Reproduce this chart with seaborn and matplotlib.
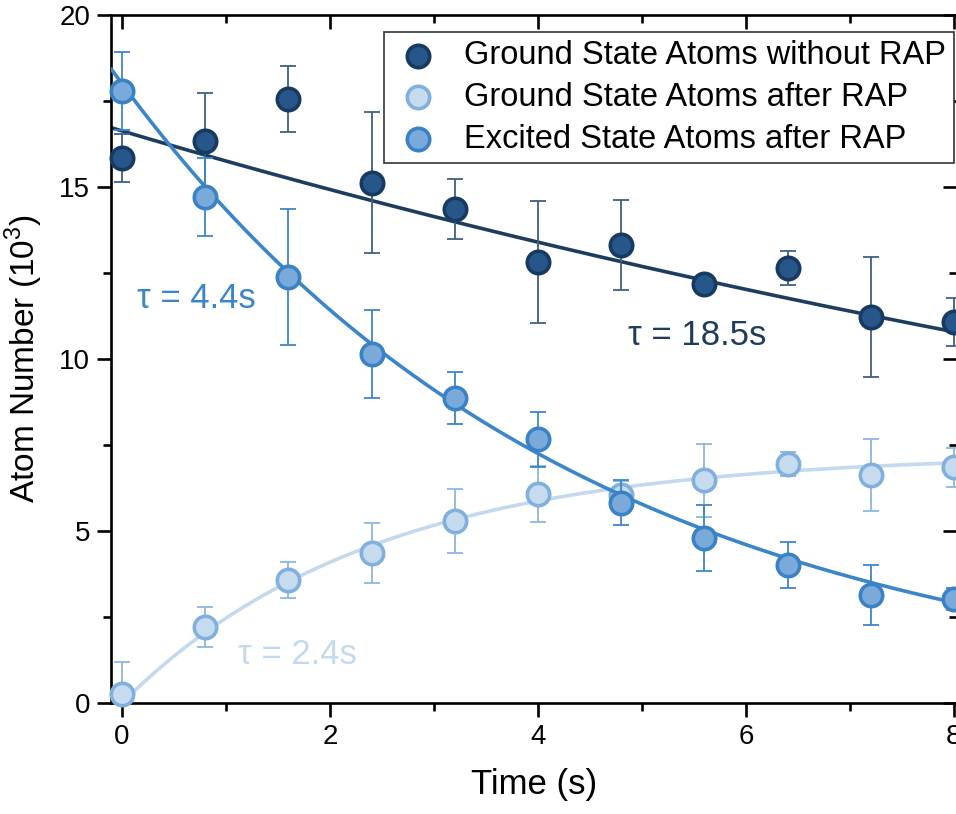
import numpy as np
import pandas as pd
import matplotlib
matplotlib.use("Agg")
import matplotlib.pyplot as plt
from matplotlib.ticker import MultipleLocator
import seaborn as sns

# Measurement times (s)
time_s = [0.0, 0.8, 1.6, 2.4, 3.2, 4.0, 4.8, 5.6, 6.4, 7.2, 8.0]

# Atom numbers (10^3) and their uncertainties
ground_no_rap = [15.84, 16.34, 17.56, 15.12, 14.36, 12.82, 13.31, 12.18, 12.65, 11.22, 11.08]
ground_no_rap_err = [0.70, 1.40, 0.95, 2.05, 0.87, 1.78, 1.31, 0.15, 0.50, 1.75, 0.70]

ground_rap = [0.26, 2.20, 3.58, 4.36, 5.29, 6.08, 6.05, 6.48, 6.95, 6.63, 6.85]
ground_rap_err = [0.93, 0.58, 0.52, 0.87, 0.92, 0.82, 0.40, 1.06, 0.34, 1.05, 0.57]

excited_rap = [17.79, 14.70, 12.38, 10.15, 8.87, 7.67, 5.82, 4.81, 4.01, 3.14, 3.02]
excited_rap_err = [1.13, 1.13, 1.98, 1.27, 0.76, 0.80, 0.65, 0.96, 0.67, 0.87, 0.32]

# Exponential fit parameters
tau_ground_no_rap, amp_ground_no_rap = 18.5, 16.63
tau_ground_rap, amp_ground_rap = 2.4, 7.24
tau_excited_rap, amp_excited_rap = 4.4, 18.0

labels = ["Ground State Atoms without RAP", "Ground State Atoms after RAP",
          "Excited State Atoms after RAP"]

dark = dict(face="#26568a", edge="#173b60", line="#1d3d5f", err="#3f5f80")
light = dict(face="#c7dbef", edge="#80b1de", line="#c4d9ee", err="#8bb7e1")
medium = dict(face="#7aaad9", edge="#3a82c6", line="#3b85ca", err="#3e86c8")

sns.set_style("ticks")
plt.rcParams["font.family"] = ["Liberation Sans", "DejaVu Sans"]
plt.rcParams["mathtext.fontset"] = "custom"
plt.rcParams["mathtext.rm"] = "Liberation Sans"
for k in ["text.color", "axes.labelcolor", "xtick.color", "ytick.color",
          "xtick.labelcolor", "ytick.labelcolor"]:
    plt.rcParams[k] = "black"

fig = plt.figure(figsize=(9.56, 8.14), dpi=100)
ax = fig.add_axes([111 / 956, 111 / 814, 846 / 956, 688 / 814])

xmin, xmax = -0.106, 8.03
t_fit = np.linspace(xmin, xmax, 400)
fits = pd.DataFrame({
    "t": t_fit,
    "g0": amp_ground_no_rap * np.exp(-t_fit / tau_ground_no_rap),
    "g1": amp_ground_rap * (1 - np.exp(-t_fit / tau_ground_rap)),
    "e1": amp_excited_rap * np.exp(-t_fit / tau_excited_rap),
})

series = [
    (ground_no_rap, ground_no_rap_err, dark, labels[0], "g0"),
    (ground_rap, ground_rap_err, light, labels[1], "g1"),
    (excited_rap, excited_rap_err, medium, labels[2], "e1"),
]

z = 2
for vals, errs, col, lab, key in series:
    sns.lineplot(data=fits, x="t", y=key, ax=ax, color=col["line"], lw=2.6,
                 zorder=z, legend=False)
    ax.errorbar(time_s, vals, yerr=errs, fmt="none", ecolor=col["err"],
                elinewidth=1.3, capsize=6, capthick=1.3, zorder=z + 0.5)
    df = pd.DataFrame({"t": time_s, "n": vals})
    sns.scatterplot(data=df, x="t", y="n", ax=ax, s=260, color=col["face"],
                    edgecolor=col["edge"], linewidth=2.6, zorder=z + 1,
                    label=lab, clip_on=False)
    z += 2

ax.set_xlim(xmin, xmax)
ax.set_ylim(0, 20)
ax.xaxis.set_major_locator(MultipleLocator(2))
ax.xaxis.set_minor_locator(MultipleLocator(1))
ax.yaxis.set_major_locator(MultipleLocator(5))
ax.yaxis.set_minor_locator(MultipleLocator(2.5))

for s in ax.spines.values():
    s.set_linewidth(1.9)
    s.set_color("black")
    s.set_visible(True)

ax.tick_params(axis="both", which="major", length=10, width=1.9, labelsize=20,
               color="black", labelcolor="black", pad=5)
ax.tick_params(axis="both", which="minor", length=6, width=1.9, color="black")
ax.tick_params(axis="both", which="both", direction="out")
# mirrored ticks on the top and right sides point inward
ax.tick_params(which="both", top=True, right=True, labeltop=False, labelright=False)
for tk in ax.xaxis.get_major_ticks() + ax.xaxis.get_minor_ticks():
    tk.tick2line.set_marker(matplotlib.lines.TICKDOWN)
for tk in ax.yaxis.get_major_ticks() + ax.yaxis.get_minor_ticks():
    tk.tick2line.set_marker(matplotlib.lines.TICKLEFT)

ax.set_xlabel("Time (s)", fontsize=25, labelpad=13, color="black")
ax.set_ylabel("Atom Number (10$^3$)", fontsize=24, labelpad=10, color="black")

ax.text(0.145, 11.77, "τ = 4.4s", color=medium["line"], fontsize=25, va="center")
ax.text(4.87, 10.67, "τ = 18.5s", color=dark["line"], fontsize=25, va="center")
ax.text(1.115, 1.40, "τ = 2.4s", color=light["line"], fontsize=25, va="center")

leg = ax.legend(loc="upper right", bbox_to_anchor=(1.0, 0.98), fontsize=23.5,
                frameon=True, fancybox=False, framealpha=1, edgecolor="#333333",
                borderpad=0.25, labelspacing=0.33, handletextpad=0.6,
                handlelength=1.6, borderaxespad=0.1)
leg.get_frame().set_linewidth(1.2)
for t in leg.get_texts():
    t.set_color("black")

fig.savefig("out.png", dpi=100)
